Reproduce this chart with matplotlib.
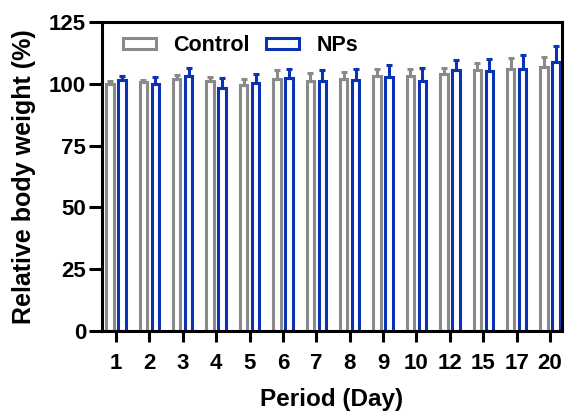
import numpy as np
import matplotlib
matplotlib.use("Agg")
import matplotlib.pyplot as plt

plt.rcParams['font.family'] = ['Liberation Sans', 'DejaVu Sans']
plt.rcParams['font.weight'] = 'bold'

days = ['1', '2', '3', '4', '5', '6', '7', '8', '9', '10', '12', '15', '17', '20']
control = [100.0, 100.7, 101.9, 101.2, 99.6, 101.9, 101.2, 101.9, 103.0, 103.0, 103.9, 105.7, 106.2, 107.0]
control_err = [1.3, 0.9, 1.6, 1.4, 2.3, 3.5, 3.1, 2.8, 2.9, 2.9, 2.7, 2.9, 4.4, 4.0]
nps = [101.5, 99.9, 103.0, 98.3, 100.3, 102.3, 101.0, 101.6, 102.7, 101.2, 105.4, 105.3, 105.9, 109.0]
nps_err = [1.5, 2.7, 3.6, 4.1, 3.6, 3.7, 4.7, 4.6, 5.0, 5.4, 4.3, 4.8, 5.6, 6.5]

gray = '#8a8a8a'
blue = '#0a32b4'

fig = plt.figure(figsize=(5.65, 4.16), dpi=100)
ax = fig.add_axes([0.1805, 0.2043, 0.8142, 0.7427])

x = np.arange(len(days))
w = 0.22
off = 0.18
for vals, errs, col, sgn, lab in [(control, control_err, gray, -1, 'Control'),
                                  (nps, nps_err, blue, 1, 'NPs')]:
    ax.bar(x + sgn * off, vals, width=w, facecolor='white', edgecolor=col,
           linewidth=2.2, label=lab, zorder=2)
    ax.errorbar(x + sgn * off, vals, yerr=[np.zeros(len(vals)), errs], fmt='none',
                ecolor=col, elinewidth=2.2, capsize=2.5, capthick=2.2, zorder=3)

ax.set_xlim(-0.42, len(days) - 1 + 0.36)
ax.set_ylim(0, 125)
ax.set_yticks([0, 25, 50, 75, 100, 125])
ax.set_xticks(x)
ax.set_xticklabels(days)
for s in ax.spines.values():
    s.set_linewidth(2.2)
ax.tick_params(axis='both', width=2.2, labelsize=16)
ax.tick_params(axis='x', length=8, pad=8)
ax.tick_params(axis='y', length=9.5, pad=2)
ax.set_xlabel('Period (Day)', fontsize=17.5, fontweight='bold', labelpad=10)
ax.set_ylabel('Relative body weight (%)', fontsize=18, fontweight='bold', labelpad=9)

ax.legend(loc='upper left', frameon=False, ncol=2, fontsize=15.5, handlelength=1.55,
          handleheight=0.45, columnspacing=0.75, handletextpad=0.8,
          bbox_to_anchor=(0.003, 1.02))

fig.savefig('out.png', dpi=100)
